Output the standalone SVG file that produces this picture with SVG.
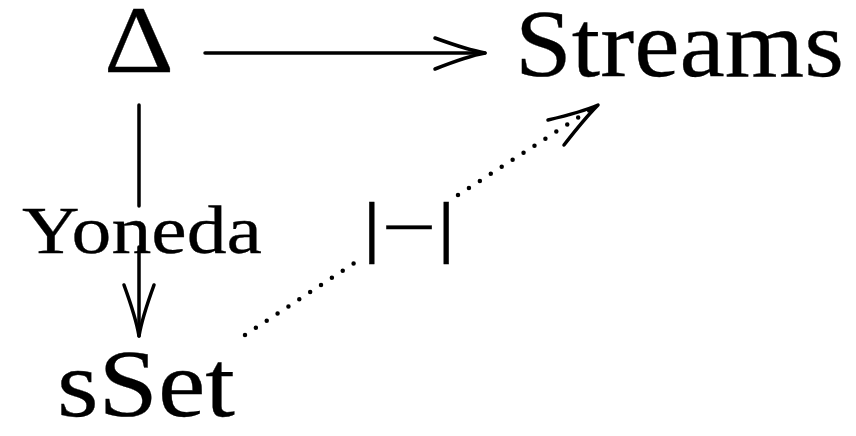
<svg xmlns="http://www.w3.org/2000/svg" width="856" height="436" viewBox="0 0 856 436">
<style>
.t{font-family:"Liberation Serif","DejaVu Serif",serif;fill:#000;stroke:#000;stroke-width:0.3}
.n{font-size:96px}
.l{font-size:68px}
.c{fill:none;stroke:#000;stroke-width:3.5;stroke-linecap:round;stroke-linejoin:round}
.d{fill:none;stroke:#000;stroke-width:4.5;stroke-linecap:round;stroke-dasharray:0 13}
</style>
<rect width="856" height="436" fill="#fff"/>
<g id="delta"><text class="t n" x="104" y="72" textLength="70" lengthAdjust="spacingAndGlyphs">Δ</text></g>
<g id="streams"><text class="t n" x="515" y="76" textLength="329" lengthAdjust="spacingAndGlyphs">Streams</text></g>
<g id="sset"><text class="t n" x="57" y="416" textLength="178" lengthAdjust="spacingAndGlyphs">sSet</text></g>
<g id="connectors">
<path class="c" d="M205,53 H485"/>
<path class="c" d="M435,38 Q468,50 485,53 Q468,56 435,69"/>
<path class="c" d="M139,105 V206 M139,247 V336"/>
<path class="c" d="M124,285 Q136,318 139,336 Q142,318 154,285"/>
<path class="d" d="M245,335 L362,258 M458,195 L596,106"/>
<path class="c" d="M548,120 Q582,112 598,105 Q585,118 564,145"/>
<text id="yoneda" class="t l" x="22" y="253" textLength="240" lengthAdjust="spacingAndGlyphs">Yoneda</text>
<text id="realization" class="t l" x="362" y="250" textLength="94" lengthAdjust="spacingAndGlyphs">|−|</text>
</g>
</svg>
